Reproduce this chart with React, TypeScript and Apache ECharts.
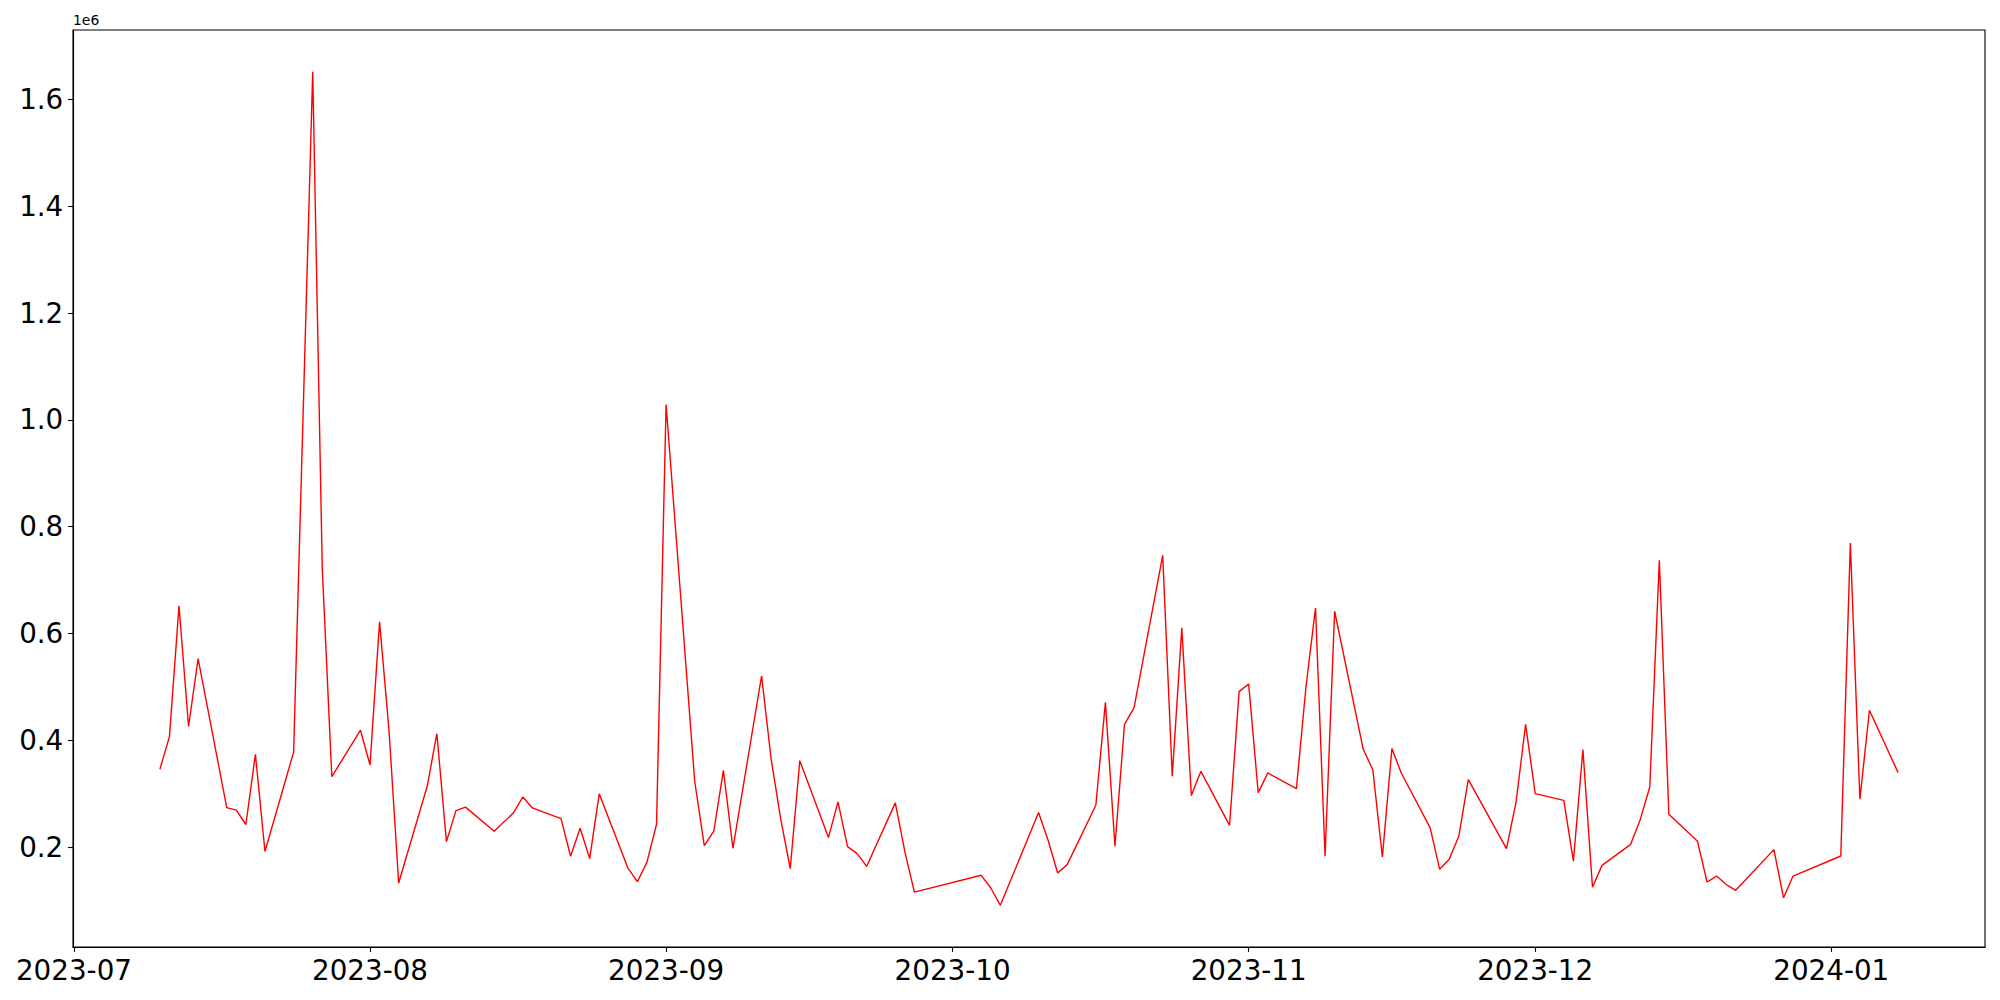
import React, { useEffect, useRef } from 'react';
import * as echarts from 'echarts';

const dates: string[] = [
  '2023-07-10', '2023-07-11', '2023-07-12', '2023-07-13', '2023-07-14',
  '2023-07-17', '2023-07-18', '2023-07-19', '2023-07-20', '2023-07-21',
  '2023-07-24', '2023-07-26', '2023-07-27', '2023-07-28',
  '2023-07-31', '2023-08-01', '2023-08-02', '2023-08-03', '2023-08-04',
  '2023-08-07', '2023-08-08', '2023-08-09', '2023-08-10', '2023-08-11',
  '2023-08-14', '2023-08-16', '2023-08-17', '2023-08-18',
  '2023-08-21', '2023-08-22', '2023-08-23', '2023-08-24', '2023-08-25',
  '2023-08-28', '2023-08-29', '2023-08-30', '2023-08-31', '2023-09-01',
  '2023-09-04', '2023-09-05', '2023-09-06', '2023-09-07', '2023-09-08',
  '2023-09-11', '2023-09-12', '2023-09-13', '2023-09-14', '2023-09-15',
  '2023-09-18', '2023-09-19', '2023-09-20', '2023-09-21', '2023-09-22',
  '2023-09-25', '2023-09-26', '2023-09-27',
  '2023-10-04', '2023-10-05', '2023-10-06',
  '2023-10-10', '2023-10-11', '2023-10-12', '2023-10-13',
  '2023-10-16', '2023-10-17', '2023-10-18', '2023-10-19', '2023-10-20',
  '2023-10-23', '2023-10-24', '2023-10-25', '2023-10-26', '2023-10-27',
  '2023-10-30', '2023-10-31', '2023-11-01', '2023-11-02', '2023-11-03',
  '2023-11-06', '2023-11-07', '2023-11-08', '2023-11-09', '2023-11-10',
  '2023-11-13', '2023-11-14', '2023-11-15', '2023-11-16', '2023-11-17',
  '2023-11-20', '2023-11-21', '2023-11-22', '2023-11-23', '2023-11-24',
  '2023-11-28', '2023-11-29', '2023-11-30', '2023-12-01',
  '2023-12-04', '2023-12-05', '2023-12-06', '2023-12-07', '2023-12-08',
  '2023-12-11', '2023-12-12', '2023-12-13', '2023-12-14', '2023-12-15',
  '2023-12-18', '2023-12-19', '2023-12-20', '2023-12-21', '2023-12-22',
  '2023-12-26', '2023-12-27', '2023-12-28',
  '2024-01-02', '2024-01-03', '2024-01-04', '2024-01-05', '2024-01-08',
];

const values: number[] = [
  346000, 407000, 652000, 426000, 553000,
  274000, 269500, 242500, 374000, 192000,
  378000, 1652000, 722000, 332000,
  419000, 354000, 622000, 416000, 133000,
  315000, 412500, 210500, 268500, 275000,
  230000, 264000, 294000, 273500,
  253500, 183000, 235400, 178600, 300000,
  161000, 135500, 172000, 243000, 1029000,
  323000, 203000, 230000, 344000, 198000,
  521000, 365000, 253000, 160000, 362000,
  218000, 285000, 201000, 188000, 164000,
  283000, 191600, 116000,
  147400, 123600, 91200,
  264800, 213000, 151700, 167400,
  278500, 471300, 201700, 430000, 461400,
  746600, 332800, 611000, 296600, 342000,
  241000, 491300, 505700, 302200, 339000,
  309700, 500000, 648000, 183000, 641800,
  383300, 345000, 181700, 384600, 338000,
  236700, 158600, 177300, 220400, 326600,
  197300, 284700, 430000, 300300,
  287800, 174000, 382700, 125000, 166000,
  205400, 251600, 312800, 737000, 261600,
  211000, 134900, 146000, 130000, 119300,
  195500, 105000, 146000,
  183500, 769700, 289700, 456400, 339700,
];

const monthTicks: string[] = [
  '2023-07-01', '2023-08-01', '2023-09-01', '2023-10-01',
  '2023-11-01', '2023-12-01', '2024-01-01',
];

const yTicks: number[] = [200000, 400000, 600000, 800000, 1000000, 1200000, 1400000, 1600000];

function toTs(s: string): number {
  const [y, m, d] = s.split('-').map(Number);
  return Date.UTC(y, m - 1, d);
}

function fmtMonth(v: number): string {
  const d = new Date(v);
  const mm = String(d.getUTCMonth() + 1).padStart(2, '0');
  return `${d.getUTCFullYear()}-${mm}`;
}

export default function App() {
  const ref = useRef<HTMLDivElement>(null);

  useEffect(() => {
    if (!ref.current) return;
    const chart = echarts.init(ref.current, undefined, { renderer: 'svg' });

    const ts = dates.map(toTs);
    const tMin = Math.min(...ts);
    const tMax = Math.max(...ts);
    const tPad = (tMax - tMin) * 0.05;
    const vMin = Math.min(...values);
    const vMax = Math.max(...values);
    const vPad = (vMax - vMin) * 0.05;

    const monthTs = monthTicks.map(toTs);
    const font = 'DejaVu Sans';
    const black = '#000000';

    chart.setOption({
      animation: false,
      backgroundColor: '#ffffff',
      grid: {
        left: 73,
        right: 15,
        top: 30,
        bottom: 53,
        show: true,
        borderColor: black,
        borderWidth: 1.1,
        backgroundColor: 'transparent',
        containLabel: false,
      },
      xAxis: {
        type: 'value',
        min: tMin - tPad,
        max: tMax + tPad,
        axisLine: { show: true, onZero: false, lineStyle: { color: black, width: 1.1 } },
        axisTick: {
          show: true,
          inside: false,
          length: 4.9,
          lineStyle: { color: black, width: 1.1 },
          customValues: monthTs,
        },
        axisLabel: {
          show: true,
          customValues: monthTs,
          fontSize: 27.78,
          fontFamily: font,
          color: black,
          margin: 9.7,
          showMinLabel: true,
          showMaxLabel: true,
          formatter: (v: number) => fmtMonth(v),
        },
        splitLine: { show: false },
      },
      yAxis: {
        type: 'value',
        min: vMin - vPad,
        max: vMax + vPad,
        axisLine: { show: true, onZero: false, lineStyle: { color: black, width: 1.1 } },
        axisTick: {
          show: true,
          inside: false,
          length: 4.9,
          lineStyle: { color: black, width: 1.1 },
          customValues: yTicks,
        },
        axisLabel: {
          show: true,
          customValues: yTicks,
          fontSize: 27.78,
          fontFamily: font,
          color: black,
          margin: 9.7,
          formatter: (v: number) => (v / 1e6).toFixed(1),
        },
        splitLine: { show: false },
      },
      series: [
        {
          type: 'line',
          data: ts.map((t, i) => [t, values[i]]),
          showSymbol: false,
          symbol: 'none',
          smooth: false,
          lineStyle: { color: '#ff0000', width: 1.4 },
          itemStyle: { color: '#ff0000' },
        },
      ],
      graphic: [
        {
          type: 'text',
          left: 73,
          top: 13,
          style: { text: '1e6', fontSize: 13.9, fontFamily: font, fill: black },
        },
      ],
    });

    return () => chart.dispose();
  }, []);

  return (
    <div
      ref={ref}
      style={{ position: 'absolute', left: 0, top: 0, width: 2000, height: 1000 }}
    />
  );
}
